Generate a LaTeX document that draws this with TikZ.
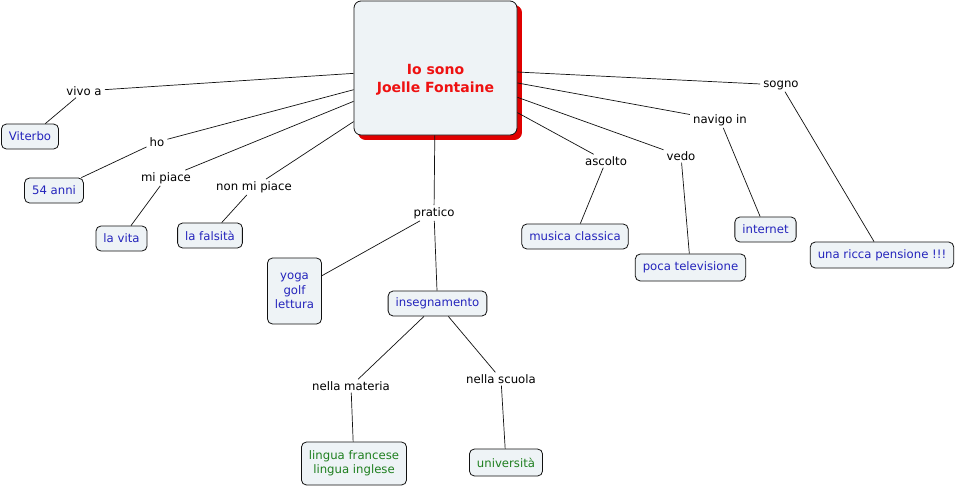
\documentclass[tikz,border=0pt]{standalone}
\usepackage{fontspec}
\setmainfont{DejaVu Sans}
\usetikzlibrary{shadows}
\definecolor{boxfill}{HTML}{EEF3F6}
\definecolor{bluetext}{HTML}{2424BC}
\definecolor{greentext}{HTML}{1F7F1F}
\definecolor{shadowred}{HTML}{E00000}
\definecolor{titlered}{HTML}{EE1111}
\definecolor{linecol}{HTML}{111111}
\newcommand{\mapfont}{\fontsize{11.7}{14.5}\selectfont}
\tikzset{
  concept/.style={draw=linecol, line width=0.8pt, rounded corners=5pt, fill=boxfill,
    inner xsep=7.5pt, inner ysep=5pt, minimum height=25pt, align=center, font=\mapfont},
  bluetxt/.style={concept, text=bluetext},
  greentxt/.style={concept, text=greentext},
  linkphrase/.style={font=\mapfont, inner xsep=3pt, inner ysep=2pt, text=black},
  conn/.style={draw=linecol, line width=0.7pt},
}
\begin{document}
\begin{tikzpicture}[x=1pt,y=-1pt]
\useasboundingbox (0,0) rectangle (958,488);
\fill[white] (0,0) rectangle (958,488);

% central concept
\node[draw=linecol, line width=0.8pt, rounded corners=7pt, fill=boxfill,
  minimum width=163pt, minimum height=134pt,
  copy shadow={fill=shadowred, draw=shadowred, shadow xshift=4.5pt, shadow yshift=-4.5pt}]
  (C) at (435.5,68) {};
\node[font=\fontsize{14}{18}\selectfont\bfseries, text=titlered, align=center] (Ct) at (435.5,80) {Io sono\\Joelle Fontaine};

% concepts
\node[bluetxt] (viterbo) at (30,136.5) {Viterbo};
\node[bluetxt] (anni) at (54,190.5) {54 anni};
\node[bluetxt] (vita) at (121.5,238.5) {la vita};
\node[bluetxt] (falsita) at (210,235.5) {la falsità};
\node[bluetxt, minimum height=66pt] (yoga) at (294.5,291) {yoga\\golf\\lettura};
\node[bluetxt] (inseg) at (437.5,303.5) {insegnamento};
\node[greentxt, minimum height=43pt] (lingua) at (354,463.5) {lingua francese\\lingua inglese};
\node[greentxt, minimum height=27pt] (univ) at (506,462.5) {università};
\node[bluetxt] (musica) at (575,236.5) {musica classica};
\node[bluetxt, minimum height=27pt] (tv) at (690.5,267.5) {poca televisione};
\node[bluetxt] (internet) at (765.5,229.5) {internet};
\node[bluetxt, minimum height=26pt] (pensione) at (882,255) {una ricca pensione !!!};

% linking phrases
\node[linkphrase] (vivoa) at (84,91) {vivo a};
\node[linkphrase] (ho) at (157,142) {ho};
\node[linkphrase] (mipiace) at (166,178) {mi piace};
\node[linkphrase] (nonmi) at (254,187) {non mi piace};
\node[linkphrase] (pratico) at (434,213) {pratico};
\node[linkphrase] (materia) at (351,386) {nella materia};
\node[linkphrase] (scuola) at (501,379) {nella scuola};
\node[linkphrase] (ascolto) at (606,161) {ascolto};
\node[linkphrase] (vedo) at (681,156) {vedo};
\node[linkphrase] (navigo) at (720,120) {navigo in};
\node[linkphrase] (sogno) at (781,85) {sogno};

% connectors
\draw[conn] (C) -- (vivoa);
\draw[conn] (vivoa) -- (viterbo);
\draw[conn] (C) -- (ho);
\draw[conn] (ho) -- (anni);
\draw[conn] (C) -- (mipiace);
\draw[conn] (mipiace) -- (vita);
\draw[conn] (C) -- (nonmi);
\draw[conn] (nonmi) -- (falsita);
\draw[conn] (C) -- (pratico);
\draw[conn] (pratico) -- (yoga);
\draw[conn] (pratico) -- (inseg);
\draw[conn] (inseg) -- (materia);
\draw[conn] (inseg) -- (scuola);
\draw[conn] (materia) -- (lingua);
\draw[conn] (scuola) -- (univ);
\draw[conn] (C) -- (ascolto);
\draw[conn] (ascolto) -- (musica);
\draw[conn] (C) -- (vedo);
\draw[conn] (vedo) -- (tv);
\draw[conn] (C) -- (navigo);
\draw[conn] (navigo) -- (internet);
\draw[conn] (C) -- (sogno);
\draw[conn] (sogno) -- (pensione);
\end{tikzpicture}
\end{document}
